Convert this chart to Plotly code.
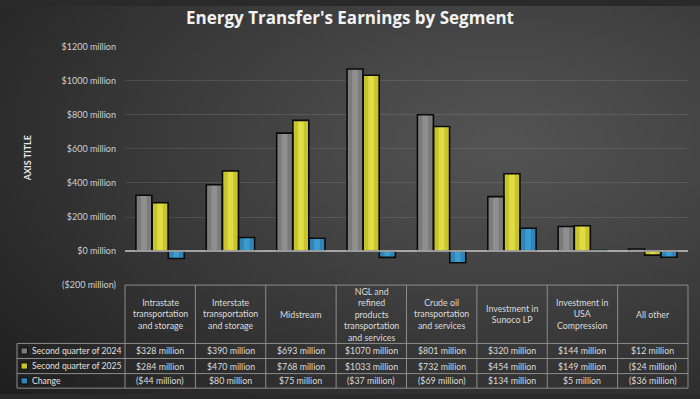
import base64, struct, zlib, math
import plotly.graph_objects as go

# ---------------- data ----------------
categories = [
    "Intrastate<br>transportation<br>and storage",
    "Interstate<br>transportation<br>and storage",
    "Midstream",
    "NGL and<br>refined<br>products<br>transportation<br>and services",
    "Crude oil<br>transportation<br>and services",
    "Investment in<br>Sunoco LP",
    "Investment in<br>USA<br>Compression",
    "All other",
]
series_names = ["Second quarter of 2024", "Second quarter of 2025", "Change"]
q2_2024 = [328, 390, 693, 1070, 801, 320, 144, 12]
q2_2025 = [284, 470, 768, 1033, 732, 454, 149, -24]
change = [-44, 80, 75, -37, -69, 134, 5, -36]
tick_values = [-200, 0, 200, 400, 600, 800, 1000, 1200]
tick_labels = ["($200 million)", "$0 million", "$200 million", "$400 million",
               "$600 million", "$800 million", "$1000 million", "$1200 million"]
title_text = "Energy Transfer's Earnings by Segment"
axis_title = "AXIS TITLE"

W, H = 700, 399
FONT = "Lato"


def fmt(v):
    return f"${v} million" if v >= 0 else f"(${abs(v)} million)"


def px(x):
    return x / W


def py(y):
    return 1 - y / H


# ---------------- background gradient (PNG data URI) ----------------
def make_bg(w=140, h=80):
    raw = b""
    for j in range(h):
        row = b"\x00"
        for i in range(w):
            X = (i + 0.5) / w * W
            Y = (j + 0.5) / h * H
            d = math.sqrt(((X - 500) / 560) ** 2 + ((Y - 140) / 330) ** 2)
            c = 84 - 44 * min(d, 1.4) ** 1.1
            c = int(max(24, min(90, c)))
            row += bytes([c, c, c])
        raw += row

    def chunk(t, data):
        c = struct.pack(">I", len(data)) + t + data
        return c + struct.pack(">I", zlib.crc32(t + data) & 0xFFFFFFFF)

    png = b"\x89PNG\r\n\x1a\n"
    png += chunk(b"IHDR", struct.pack(">IIBBBBB", w, h, 8, 2, 0, 0, 0))
    png += chunk(b"IDAT", zlib.compress(raw, 9))
    png += chunk(b"IEND", b"")
    return "data:image/png;base64," + base64.b64encode(png).decode()


# ---------------- chart ----------------
fills = ["#7b7b7b", "#c8c42a", "#2f86b6"]
highlights = ["#8f8f8f", "#e0dc46", "#3d9bcf"]
values = [q2_2024, q2_2025, change]

bw = 0.227
offsets = [-0.345, -0.115, 0.115]

fig = go.Figure()
for k in range(3):
    fig.add_bar(x=categories, y=values[k], width=bw, offset=offsets[k],
                marker=dict(color=fills[k], line=dict(width=0)),
                name=series_names[k], showlegend=False, hoverinfo="skip")
for k in range(3):
    sw = bw * 0.36
    fig.add_bar(x=categories, y=values[k], width=sw, offset=offsets[k] + (bw - sw) / 2,
                marker=dict(color=highlights[k], line=dict(width=0)),
                showlegend=False, hoverinfo="skip")
for k in range(3):
    fig.add_bar(x=categories, y=values[k], width=bw, offset=offsets[k],
                marker=dict(color="rgba(0,0,0,0)", line=dict(color="#0a0a0a", width=1.6)),
                showlegend=False, hoverinfo="skip")

x0, x1 = 125, 688
y_top, y_bot = 42, 287
fig.update_layout(
    width=W, height=H,
    margin=dict(l=0, r=0, t=0, b=0, pad=0),
    paper_bgcolor="#2a2a2a",
    plot_bgcolor="rgba(0,0,0,0)",
    barmode="overlay",
    showlegend=False,
    font=dict(family=FONT, color="#d0d0d0"),
    title=dict(text=f"<b>{title_text}</b>", x=0.5, xanchor="center",
               y=1 - 18.5 / H, yanchor="middle", yref="container",
               font=dict(family="Open Sans", size=17, color="#f2f2f2")),
    xaxis=dict(domain=[px(x0), px(x1)], range=[-0.5, 7.5], showticklabels=False,
               showgrid=False, zeroline=False, showline=False, fixedrange=True),
    yaxis=dict(domain=[py(y_bot), py(y_top)], range=[-200, 1200],
               tickvals=tick_values, ticktext=tick_labels,
               tickfont=dict(size=9, color="#cfcfcf", family=FONT),
               ticks="", ticklabelstandoff=8,
               showgrid=True, gridcolor="rgba(255,255,255,0.11)", gridwidth=1,
               zeroline=False, showline=False, fixedrange=True),
    images=[dict(source=make_bg(), xref="paper", yref="paper", x=0, y=1,
                 sizex=1, sizey=1, sizing="stretch", xanchor="left",
                 yanchor="top", layer="below")],
)

# axis title
fig.add_annotation(text=f"<b>{axis_title}</b>", x=px(20), y=py(157), xref="paper",
                   yref="paper", textangle=-90, showarrow=False,
                   font=dict(size=9, color="#e8e8e8", family=FONT))

shapes = []
# zero line drawn over the bars, as in the reference
shapes.append(dict(type="line", xref="paper", yref="y", x0=px(x0), x1=px(x1), y0=0, y1=0,
                   line=dict(color="#c4c4c4", width=1.5), layer="above"))

# ---------------- data table ----------------
line_col = "#8c8c8c"
col_w = (x1 - x0) / len(categories)
row_h_top, row_ys = 287, [347, 362.5, 378, 393]
rh_left = 17

def hline(xa, xb, y):
    shapes.append(dict(type="line", xref="paper", yref="paper", x0=px(xa), x1=px(xb),
                       y0=py(y), y1=py(y), line=dict(color=line_col, width=1), layer="above"))

def vline(x, ya, yb):
    shapes.append(dict(type="line", xref="paper", yref="paper", x0=px(x), x1=px(x),
                       y0=py(ya), y1=py(yb), line=dict(color=line_col, width=1), layer="above"))

hline(x0, x1, row_h_top)
for y in row_ys:
    hline(rh_left, x1, y)
vline(rh_left, row_ys[0], row_ys[-1])
for i in range(len(categories) + 1):
    vline(x0 + i * col_w, row_h_top, row_ys[-1])

# header labels
for i, cat in enumerate(categories):
    fig.add_annotation(text=cat, x=px(x0 + (i + 0.5) * col_w), y=py((row_h_top + row_ys[0]) / 2),
                       xref="paper", yref="paper", showarrow=False, align="center",
                       xanchor="center", yanchor="middle",
                       font=dict(size=8.8, color="#dcdcdc", family=FONT))

# rows
for r in range(3):
    yc = (row_ys[r] + row_ys[r + 1]) / 2
    shapes.append(dict(type="rect", xref="paper", yref="paper",
                       x0=px(21), x1=px(27.5), y0=py(yc - 3.2), y1=py(yc + 3.2),
                       fillcolor=fills[r], line=dict(color="#0a0a0a", width=1), layer="above"))
    fig.add_annotation(text=series_names[r], x=px(29.5), y=py(yc), xref="paper", yref="paper",
                       showarrow=False, xanchor="left", yanchor="middle",
                       font=dict(size=8.6, color="#e0e0e0", family=FONT))
    for i, v in enumerate(values[r]):
        fig.add_annotation(text=fmt(v), x=px(x0 + (i + 0.5) * col_w), y=py(yc),
                           xref="paper", yref="paper", showarrow=False,
                           xanchor="center", yanchor="middle",
                           font=dict(size=8.8, color="#dcdcdc", family=FONT))

fig.update_layout(shapes=shapes)
fig.write_html("out.html", config={"displayModeBar": False},
               post_script="document.body.style.margin='0';")
